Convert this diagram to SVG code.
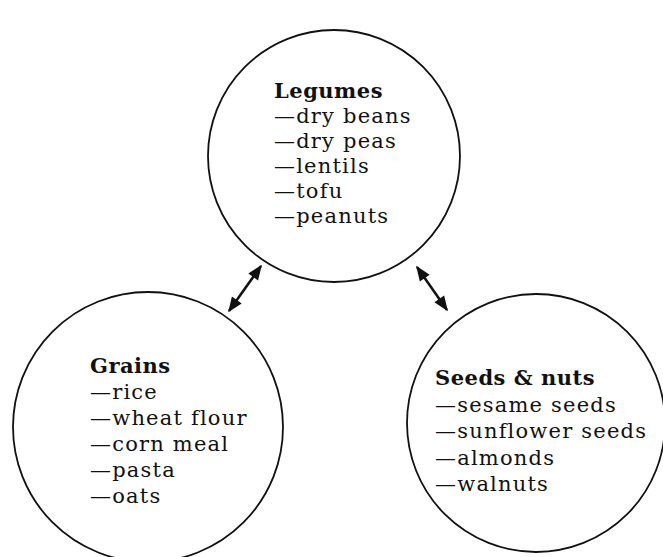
<svg xmlns="http://www.w3.org/2000/svg" width="663" height="557" viewBox="0 0 663 557">
<style>
.c{fill:#fff;stroke:#111;stroke-width:1.8}
.t{font-family:"DejaVu Serif","Liberation Serif",serif;font-size:21px;fill:#111;letter-spacing:1.2px}
.h{font-weight:bold;letter-spacing:0.5px}
.a{stroke:#111;stroke-width:2.5;fill:none;marker-start:url(#ah);marker-end:url(#ah)}
</style>
<defs>
<marker id="ah" viewBox="0 0 10 10" refX="9" refY="5" markerWidth="7" markerHeight="6" orient="auto-start-reverse" markerUnits="strokeWidth">
<path d="M0,1 L10,5 L0,9 Z" fill="#111"/>
</marker>
</defs>
<rect width="663" height="557" fill="#fff"/>
<g id="legumes">
<circle class="c" cx="334" cy="156" r="126"/>
<text class="t" x="274" y="98"><tspan class="h">Legumes</tspan><tspan x="274" dy="25">—dry beans</tspan><tspan x="274" dy="25">—dry peas</tspan><tspan x="274" dy="25">—lentils</tspan><tspan x="274" dy="25">—tofu</tspan><tspan x="274" dy="25">—peanuts</tspan></text>
</g>
<g id="grains">
<circle class="c" cx="148" cy="427" r="135"/>
<text class="t" x="90" y="373"><tspan class="h">Grains</tspan><tspan x="90" dy="26">—rice</tspan><tspan x="90" dy="26">—wheat flour</tspan><tspan x="90" dy="26">—corn meal</tspan><tspan x="90" dy="26">—pasta</tspan><tspan x="90" dy="26">—oats</tspan></text>
</g>
<g id="seeds">
<circle class="c" cx="536" cy="423" r="129"/>
<text class="t" x="435" y="385"><tspan class="h">Seeds &amp; nuts</tspan><tspan x="435" dy="26.5">—sesame seeds</tspan><tspan x="435" dy="26.5">—sunflower seeds</tspan><tspan x="435" dy="26.5">—almonds</tspan><tspan x="435" dy="26.5">—walnuts</tspan></text>
</g>
<g id="connectors">
<line class="a" x1="261" y1="266" x2="229" y2="311"/>
<line class="a" x1="417" y1="267" x2="447" y2="310"/>
</g>
</svg>
